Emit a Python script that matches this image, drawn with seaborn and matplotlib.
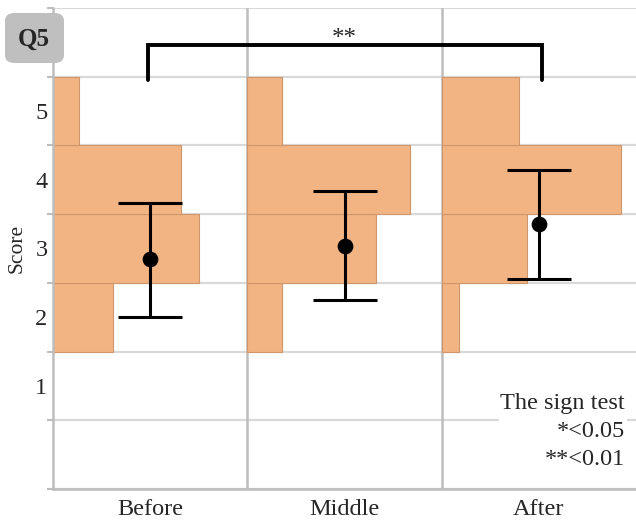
import numpy as np
import pandas as pd
import matplotlib
matplotlib.use("Agg")
import matplotlib.pyplot as plt
import seaborn as sns
from matplotlib.patches import FancyBboxPatch

# data
phases = ["Before", "Middle", "After"]
scores = [2, 3, 4, 5]
counts_before = [7, 17, 15, 3]
counts_middle = [4, 15, 19, 4]
counts_after = [2, 10, 21, 9]
means = [2.85, 3.04, 3.36]
err_low = [2.00, 2.25, 2.56]
err_high = [3.66, 3.84, 4.14]

sns.set_theme(style="white")
plt.rcParams["font.family"] = ["Liberation Serif", "DejaVu Serif"]

fig = plt.figure(figsize=(6.36, 5.24), dpi=100)
ax = fig.add_axes([53 / 636, 35 / 524, 1 - 53 / 636, 481 / 524])

bar_color = "#F2B482"
edge_color = "#CF966B"
scale = 1.85  # share of a column's width for a full group

for i, counts in enumerate([counts_before, counts_middle, counts_after]):
    total = sum(counts)
    widths = [c / total * scale for c in counts]
    ax.barh(scores, widths, height=1.0, left=i, color=bar_color,
            edgecolor=edge_color, linewidth=0.8, zorder=2)

df = pd.DataFrame({"x": np.arange(len(phases)) + 0.5, "mean": means})
lo = np.array(means) - np.array(err_low)
hi = np.array(err_high) - np.array(means)
ax.errorbar(df["x"], df["mean"], yerr=[lo, hi], fmt="none", ecolor="black",
            elinewidth=2.2, capsize=23, capthick=2.2, zorder=4)
sns.scatterplot(data=df, x="x", y="mean", ax=ax, color="black", s=110,
                edgecolor="black", zorder=5, legend=False)

# grid
for yv in np.arange(-0.5, 7.0, 1.0):
    ax.axhline(yv, color="#d9d9d9", linewidth=1.6, zorder=1)
for xv in [1, 2]:
    ax.axvline(xv, color="#bdbdbd", linewidth=1.8, zorder=1)

ax.set_xlim(0, 3)
ax.set_ylim(-0.5, 6.5)
ax.set_xticks([0.5, 1.5, 2.5])
ax.set_xticklabels(phases, fontsize=17.5)
ax.tick_params(axis="x", length=0, pad=7)
ax.set_yticks(np.arange(-0.5, 7.0, 1.0))
ax.set_yticklabels([])
ax.set_yticks([1, 2, 3, 4, 5], minor=True)
ax.set_yticklabels(["1", "2", "3", "4", "5"], minor=True, fontsize=17.5)
ax.tick_params(axis="y", which="major", length=4, color="#bdbdbd", width=1.5, left=True)
ax.tick_params(axis="y", which="minor", length=0, pad=4)
ax.set_xlabel("")
ax.set_ylabel("Score", fontsize=15.5)
ax.yaxis.set_label_coords(-0.045, 0.5)

for side in ["top", "right"]:
    ax.spines[side].set_visible(False)
for side in ["left", "bottom"]:
    ax.spines[side].set_color("#bdbdbd")
    ax.spines[side].set_linewidth(1.8)

# significance bracket
bx0, bx1, btop, bbot = 0.489, 2.517, 5.96, 5.45
ax.plot([bx0, bx0, bx1, bx1], [bbot, btop, btop, bbot], color="black",
        linewidth=2.8, solid_joinstyle="miter", clip_on=False, zorder=6)
ax.text(1.5, 6.05, "**", ha="center", va="center", fontsize=18)

ax.text(2.944, 0.34, "The sign test\n*<0.05\n**<0.01", ha="right", va="center",
        multialignment="right", fontsize=17.5, linespacing=1.45, zorder=6,
        bbox=dict(facecolor="white", edgecolor="none", pad=1))

# Q5 badge
badge = FancyBboxPatch((5 / 636, 1 - 63 / 524), 59 / 636, 50 / 524,
                       boxstyle="round,pad=0,rounding_size=0.015",
                       transform=fig.transFigure, facecolor="#bfbfbf",
                       edgecolor="none", zorder=10)
fig.patches.append(badge)
fig.text(34 / 636, 1 - 39 / 524, "Q5", ha="center", va="center",
         fontsize=18, fontweight="bold", zorder=11)

fig.savefig("out.png", dpi=100)
